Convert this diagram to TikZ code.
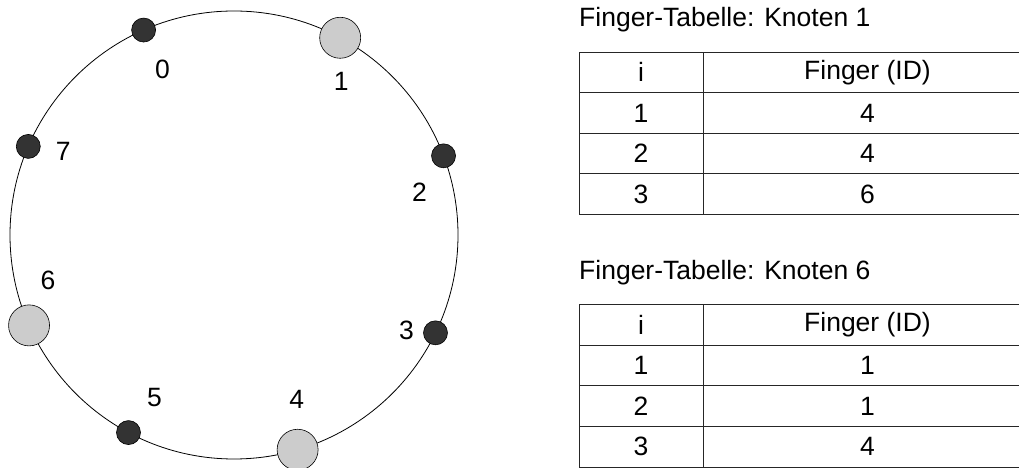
\documentclass[tikz,border=0pt]{standalone}
\usepackage{fontspec}
\setmainfont{Liberation Sans}
\usetikzlibrary{positioning}

\begin{document}
\begin{tikzpicture}[x=1pt,y=1pt,
    every node/.style={font=\fontsize{26.5}{31}\selectfont},
    ring/.style={draw=black, line width=0.8pt},
    peer/.style={circle, draw=black, line width=0.6pt, inner sep=0pt,
                 minimum size=24pt, fill=black!80},
    active/.style={peer, minimum size=41pt, fill=black!20},
    cell/.style={draw=black!85, line width=0.8pt, minimum height=40.6pt,
                 inner sep=0pt, outer sep=0pt},
    icell/.style={cell, minimum width=124pt},
    fcell/.style={cell, minimum width=329pt}]
  \useasboundingbox (0,0) rectangle (1019,468);
  \clip (0,0) rectangle (1019,468);

  % ring with its peers
  \coordinate (c) at (234,233);
  \draw[ring] (c) circle (224);
  \foreach \n/\a/\k in {0/113.8/peer, 1/61.7/active, 2/20.7/peer, 3/334.1/peer,
                        4/286.5/active, 5/241.9/peer, 6/203.8/active, 7/156.7/peer}
    \node[\k] (n\n) at ([shift={(\a:224)}]c) {};
  \foreach \n/\dx/\dy in {0/19/-39, 1/1/-44, 2/-24/-36, 3/-29/2,
                          4/-1/50, 5/26/35, 6/19/45, 7/35/-5}
    \node (l\n) at ([shift={(\dx,\dy)}]n\n) {\n};

  % finger table of node 1
  \node[icell, anchor=north west] (ai0) at (579,416) {i};
  \node[fcell, right=0pt of ai0] (af0) {Finger (ID)};
  \foreach \f [count=\r] in {4,4,6} {
    \pgfmathtruncatemacro\p{\r-1}
    \node[icell, below=0pt of ai\p] (ai\r) {\r};
    \node[fcell, right=0pt of ai\r] (af\r) {\f};
  }
  \node[anchor=base west, inner sep=0pt] (atitle) at ([yshift=25pt]ai0.north west)
    {Finger-Tabelle: Knoten 1};

  % finger table of node 6
  \node[icell, anchor=north west] (bi0) at (579,163.3) {i};
  \node[fcell, right=0pt of bi0] (bf0) {Finger (ID)};
  \foreach \f [count=\r] in {1,1,4} {
    \pgfmathtruncatemacro\p{\r-1}
    \node[icell, below=0pt of bi\p] (bi\r) {\r};
    \node[fcell, right=0pt of bi\r] (bf\r) {\f};
  }
  \node[anchor=base west, inner sep=0pt] (btitle) at ([yshift=25pt]bi0.north west)
    {Finger-Tabelle: Knoten 6};
\end{tikzpicture}
\end{document}
